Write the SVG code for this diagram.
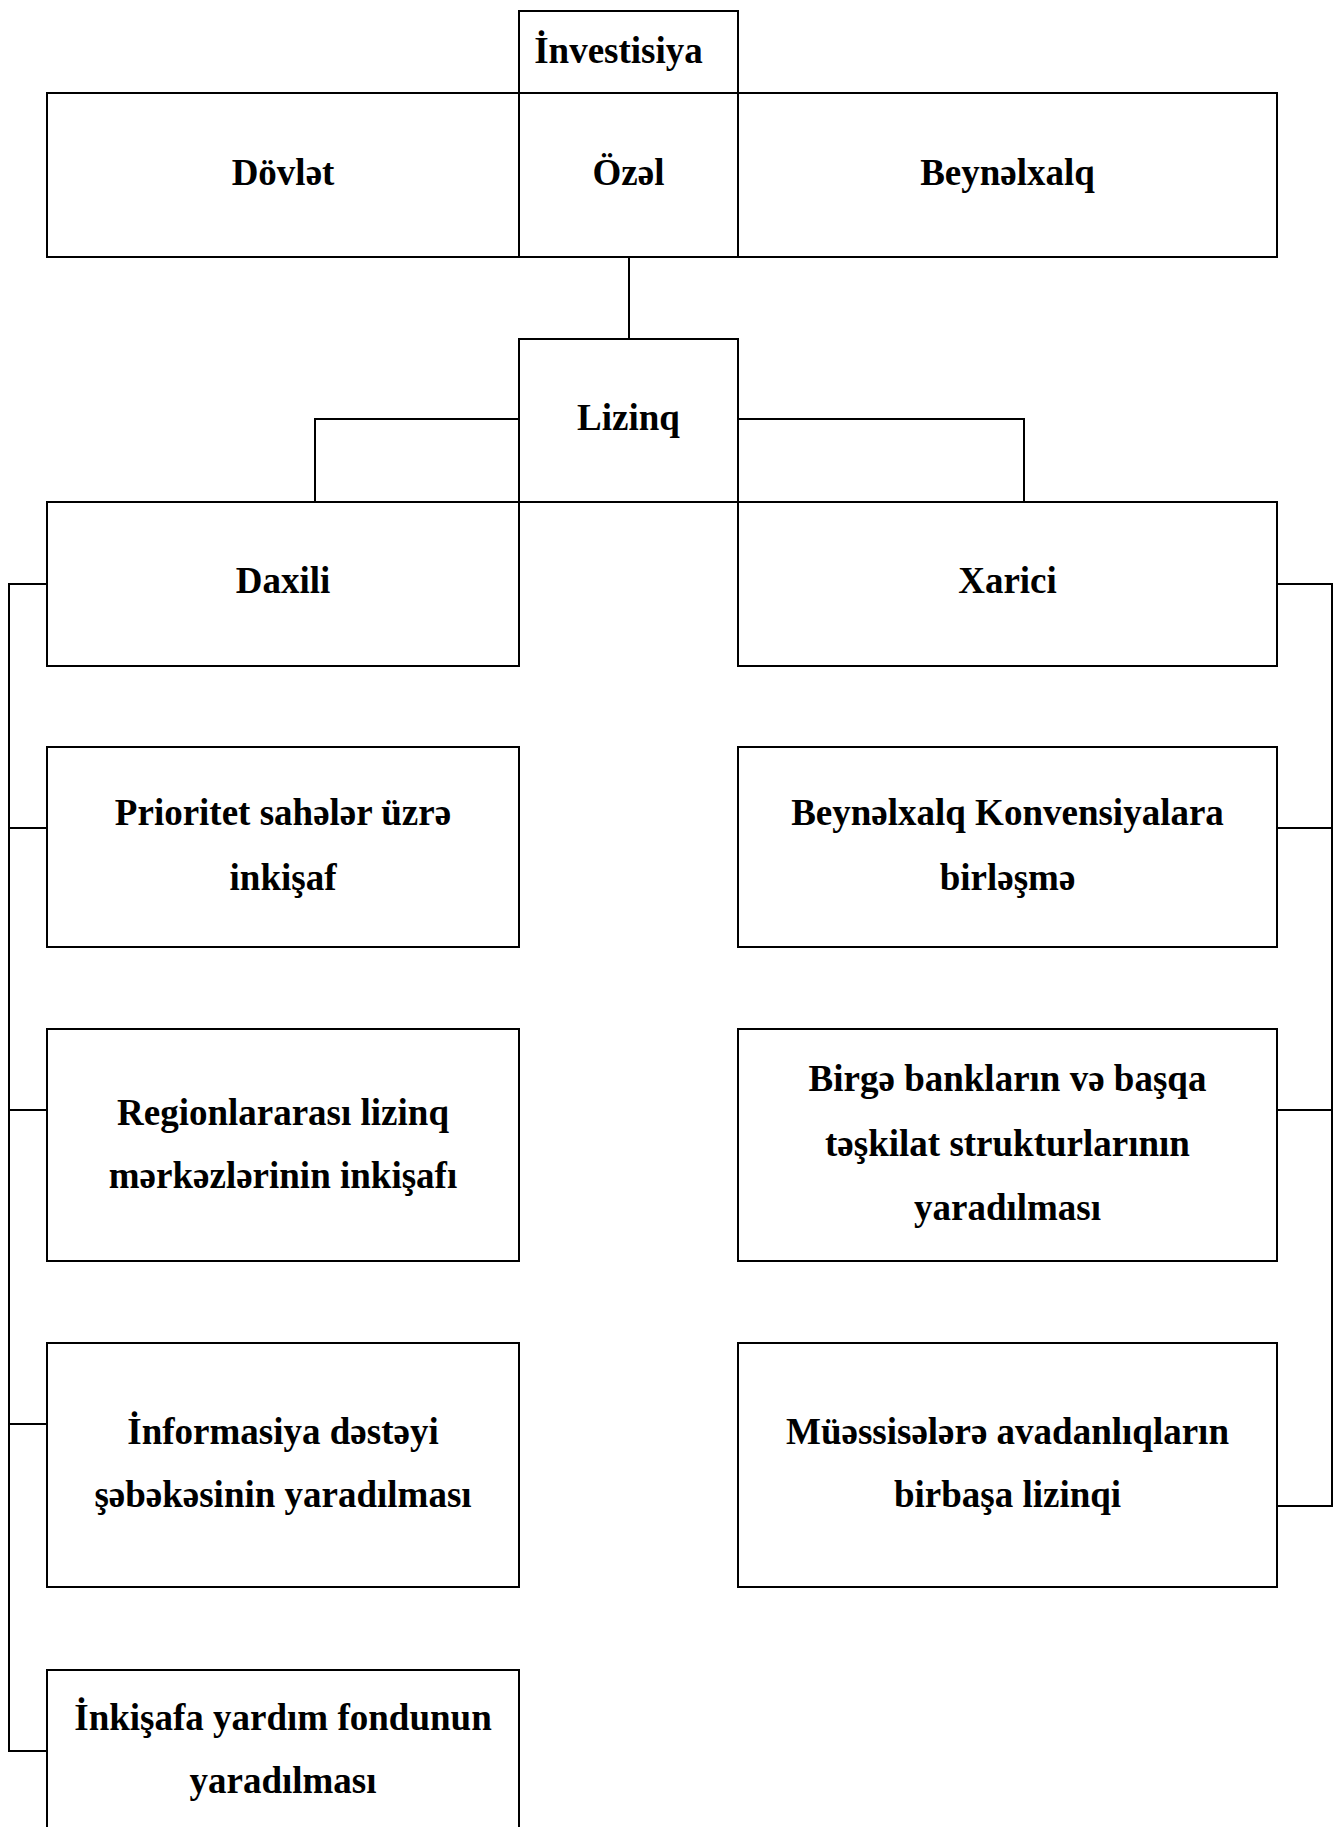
<svg xmlns="http://www.w3.org/2000/svg" width="1340" height="1827" viewBox="0 0 1340 1827">
<style>
.box{fill:#fff;stroke:#000;stroke-width:2}
.t{font-family:"Liberation Serif","Times New Roman",serif;font-weight:bold;font-size:37px;fill:#000;text-anchor:middle}
.c{fill:none;stroke:#000;stroke-width:2}
</style>
<rect width="1340" height="1827" fill="#fff"/>
<g id="connectors">
<path class="c" d="M629,257 V339"/>
<path class="c" d="M519,419 H315 V502"/>
<path class="c" d="M738,419 H1024 V502"/>
<path class="c" d="M47,584 H9 V1751 H47"/>
<path class="c" d="M9,828 H47 M9,1110 H47 M9,1424 H47"/>
<path class="c" d="M1277,584 H1332 V1506 H1277"/>
<path class="c" d="M1332,828 H1277 M1332,1110 H1277"/>
</g>
<g id="investisiya"><rect class="box" x="519" y="11" width="219" height="82"/><text class="t" x="618.5" y="63">İnvestisiya</text></g>
<g id="dovlet"><rect class="box" x="47" y="93" width="472" height="164"/><text class="t" x="283" y="185">Dövlət</text></g>
<g id="ozel"><rect class="box" x="519" y="93" width="219" height="164"/><text class="t" x="628.5" y="185">Özəl</text></g>
<g id="beynelxalq"><rect class="box" x="738" y="93" width="539" height="164"/><text class="t" x="1007.5" y="185">Beynəlxalq</text></g>
<g id="lizinq"><rect class="box" x="519" y="339" width="219" height="163"/><text class="t" x="628.5" y="430">Lizinq</text></g>
<g id="daxili"><rect class="box" x="47" y="502" width="472" height="164"/><text class="t" x="283" y="593">Daxili</text></g>
<g id="xarici"><rect class="box" x="738" y="502" width="539" height="164"/><text class="t" x="1007.5" y="593">Xarici</text></g>
<g id="prioritet"><rect class="box" x="47" y="747" width="472" height="200"/><text class="t" x="283" y="825">Prioritet sahələr üzrə</text><text class="t" x="283" y="890">inkişaf</text></g>
<g id="konvensiya"><rect class="box" x="738" y="747" width="539" height="200"/><text class="t" x="1007.5" y="825">Beynəlxalq Konvensiyalara</text><text class="t" x="1007.5" y="890">birləşmə</text></g>
<g id="regionlar"><rect class="box" x="47" y="1029" width="472" height="232"/><text class="t" x="283" y="1125">Regionlararası lizinq</text><text class="t" x="283" y="1188">mərkəzlərinin inkişafı</text></g>
<g id="birge"><rect class="box" x="738" y="1029" width="539" height="232"/><text class="t" x="1007.5" y="1091">Birgə bankların və başqa</text><text class="t" x="1007.5" y="1156">təşkilat strukturlarının</text><text class="t" x="1007.5" y="1220">yaradılması</text></g>
<g id="informasiya"><rect class="box" x="47" y="1343" width="472" height="244"/><text class="t" x="283" y="1444">İnformasiya dəstəyi</text><text class="t" x="283" y="1507">şəbəkəsinin yaradılması</text></g>
<g id="muessise"><rect class="box" x="738" y="1343" width="539" height="244"/><text class="t" x="1007.5" y="1444">Müəssisələrə avadanlıqların</text><text class="t" x="1007.5" y="1507">birbaşa lizinqi</text></g>
<g id="fond"><rect class="box" x="47" y="1670" width="472" height="180"/><text class="t" x="283" y="1730">İnkişafa yardım fondunun</text><text class="t" x="283" y="1793">yaradılması</text></g>
</svg>
